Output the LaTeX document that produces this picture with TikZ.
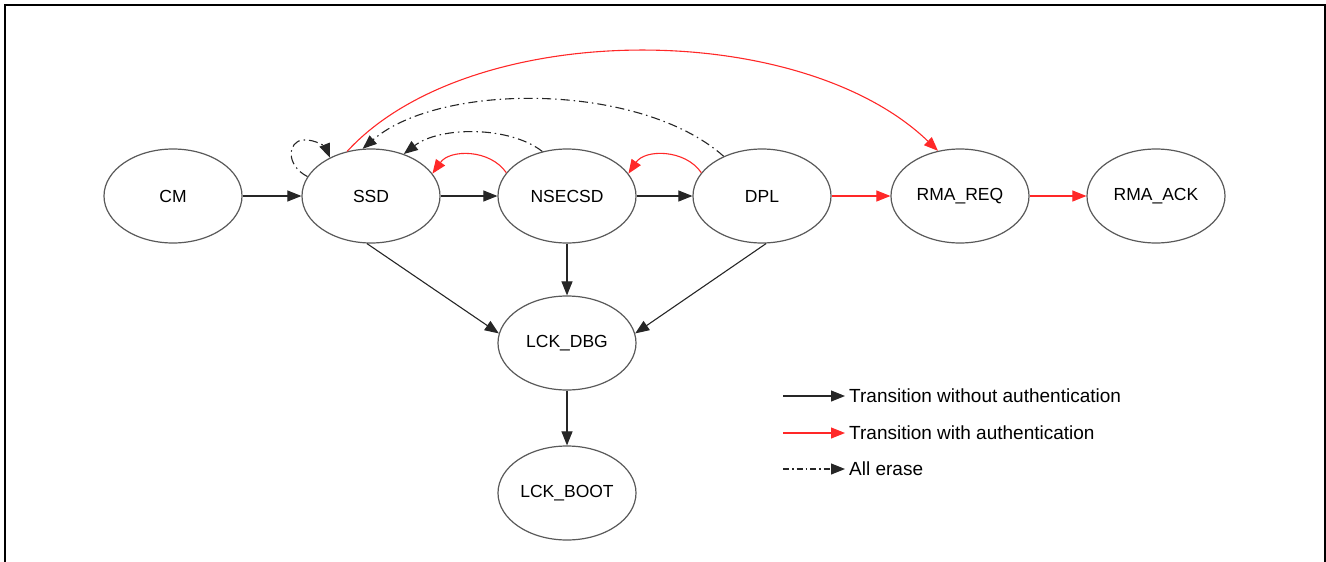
\documentclass[tikz,border=0pt]{standalone}
\usepackage{fontspec}
\setmainfont{Liberation Sans}
\usetikzlibrary{arrows.meta,shapes.geometric}
\definecolor{autred}{RGB}{255,40,40}
\tikzset{
  state/.style={ellipse,draw=black!65,line width=1.2pt,minimum width=138pt,minimum height=94pt,inner sep=0pt,font=\fontsize{17.5}{20}\selectfont},
  tr/.style={line width=1.1pt,-{Triangle[length=14pt,width=11pt]}},
  plain/.style={tr,draw=black!85},
  auth/.style={tr,draw=autred,-{Triangle[length=14pt,width=11pt,fill=autred]}},
  erase/.style={tr,draw=black!85,dash pattern=on 9pt off 4pt on 1.5pt off 4pt},
  legtext/.style={anchor=west,inner sep=0pt,font=\fontsize{19}{22}\selectfont}
}
\begin{document}
\begin{tikzpicture}[x=1pt,y=-1pt]
\useasboundingbox (0,0) rectangle (1326,562);
\draw[line width=2pt] (5,562) -- (5,5) -- (1325,5) -- (1325,562);

\node[state] (CM) at (173,196) {CM};
\node[state] (SSD) at (371,196) {SSD};
\node[state] (NSECSD) at (567,196) {NSECSD};
\node[state] (DPL) at (762,196) {DPL};
\node[state] (RMAREQ) at (960,196) {RMA\_REQ};
\node[state] (RMAACK) at (1156,196) {RMA\_ACK};
\node[state] (LCKDBG) at (567,343) {LCK\_DBG};
\node[state] (LCKBOOT) at (567,493) {LCK\_BOOT};

\draw[plain] (CM) -- (SSD);
\draw[plain] (SSD) -- (NSECSD);
\draw[plain] (NSECSD) -- (DPL);
\draw[auth] (DPL) -- (RMAREQ);
\draw[auth] (RMAREQ) -- (RMAACK);
\draw[plain] (SSD.-95) -- (LCKDBG.172);
\draw[plain] (NSECSD) -- (LCKDBG);
\draw[plain] (DPL.-85) -- (LCKDBG.8);
\draw[plain] (LCKDBG) -- (LCKBOOT);

% red arcs
\draw[auth] (NSECSD.159) .. controls (490,149) and (450,149) .. (SSD.20);
\draw[auth] (DPL.159) .. controls (685,149) and (645,149) .. (NSECSD.20);
\draw[auth] (SSD.118) .. controls (470,18) and (800,18) .. (RMAREQ.116);

% all erase
\draw[erase] (NSECSD.119) .. controls (510,126) and (440,126) .. (SSD.52);
\draw[erase] (DPL.134) .. controls (640,82) and (440,82) .. (SSD.100);
\draw[erase] (SSD.163) .. controls (285,165) and (288,141) .. (303,140) .. controls (316,139) and (326,148) .. (SSD.137);

% legend
\coordinate (l1a) at (783,396); \coordinate (l1b) at (845,396);
\coordinate (l2a) at (783,433); \coordinate (l2b) at (845,433);
\coordinate (l3a) at (783,469); \coordinate (l3b) at (845,469);
\draw[plain] (l1a) -- (l1b);
\draw[auth] (l2a) -- (l2b);
\draw[erase,dash pattern=on 6pt off 3pt on 1.5pt off 3pt] (l3a) -- (l3b);
\node[legtext] (t1) at (849,396) {Transition without authentication};
\node[legtext] (t2) at (849,433) {Transition with authentication};
\node[legtext] (t3) at (849,469) {All erase};
\end{tikzpicture}
\end{document}
